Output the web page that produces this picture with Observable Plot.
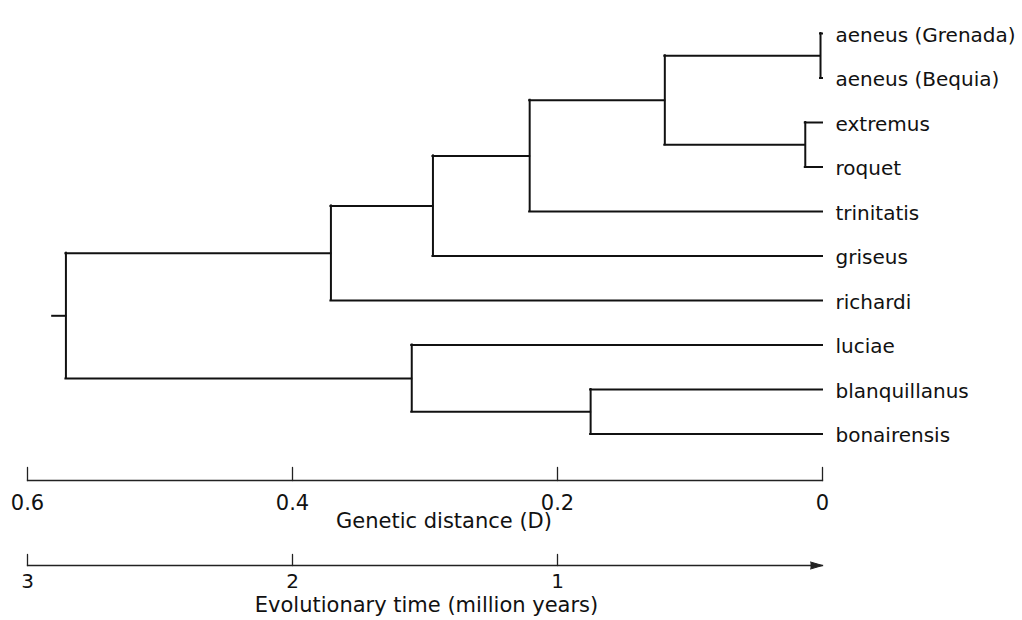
<!DOCTYPE html>
<html><head><meta charset="utf-8">
<script src="https://cdn.jsdelivr.net/npm/d3@7"></script>
<script src="https://cdn.jsdelivr.net/npm/@observablehq/plot@0.6"></script>
<style>html,body{margin:0;padding:0;background:#fff} #chart svg{display:block}</style>
</head><body><div id="chart"></div>
<script>
// Leaves (top to bottom)
const leaves = ["aeneus (Grenada)", "aeneus (Bequia)", "extremus", "roquet", "trinitatis",
  "griseus", "richardi", "luciae", "blanquillanus", "bonairensis"];
// Internal nodes: joined children and genetic distance (D) of the join
const nodeIds      = ["n1", "n2", "n3", "n4", "n5", "n6", "n7", "n8", "n9"];
const nodeLeft     = ["aeneus (Grenada)", "extremus", "n1", "n3", "n4", "n5", "blanquillanus", "luciae", "n6"];
const nodeRight    = ["aeneus (Bequia)", "roquet", "n2", "trinitatis", "griseus", "richardi", "bonairensis", "n7", "n8"];
const nodeDistance = [0.0015, 0.013, 0.119, 0.221, 0.294, 0.371, 0.175, 0.310, 0.571];
const rootStem = 0.581;
// Axes
const distTicks = [0.6, 0.4, 0.2, 0];
const timeTicks = [3, 2, 1];
const distPerMillionYears = 0.2;
const xLabel = "Genetic distance (D)";
const timeLabel = "Evolutionary time (million years)";

// Build tree geometry (data units)
const pos = new Map();
leaves.forEach((name, i) => pos.set(name, {d: 0, y: i}));
nodeIds.forEach((id, k) => {
  const a = pos.get(nodeLeft[k]), b = pos.get(nodeRight[k]);
  pos.set(id, {d: nodeDistance[k], y: (a.y + b.y) / 2});
});
const verticals = nodeIds.map((id, k) => ({x: nodeDistance[k], y1: pos.get(nodeLeft[k]).y, y2: pos.get(nodeRight[k]).y}));
const horizontals = nodeIds.flatMap((id, k) => [nodeLeft[k], nodeRight[k]].map(c => ({y: pos.get(c).y, x1: nodeDistance[k], x2: pos.get(c).d})));
const root = pos.get(nodeIds[nodeIds.length - 1]);
horizontals.push({y: root.y, x1: rootStem, x2: root.d});

const ink = "#111";
const axisInk = "#222";
const chart = Plot.plot({
  width: 1022, height: 620,
  marginLeft: 27, marginRight: 200, marginTop: 33, marginBottom: 140,
  style: {fontFamily: "'DejaVu Sans', sans-serif", background: "white", color: "black"},
  x: {domain: [0.6, 0], axis: null},
  y: {domain: [0, leaves.length - 1], range: [33, 433.5], axis: null},
  marks: [
    Plot.ruleY(horizontals, {y: "y", x1: "x1", x2: "x2", stroke: ink, strokeWidth: 2, strokeLinecap: "square"}),
    Plot.ruleX(verticals, {x: "x", y1: "y1", y2: "y2", stroke: ink, strokeWidth: 2, strokeLinecap: "square"}),
    Plot.text(leaves, {x: () => 0, y: (d, i) => i, text: d => d, textAnchor: "start", dx: 13, dy: 2, fontSize: 20, fill: ink}),
    // Genetic distance axis
    Plot.frame({anchor: "bottom", stroke: axisInk, strokeWidth: 1.3}),
    Plot.vector(distTicks, {x: d => d, frameAnchor: "bottom", length: 13, anchor: "start", r: 0, stroke: axisInk, strokeWidth: 1.3}),
    Plot.text(distTicks, {x: d => d, frameAnchor: "bottom", text: d => d === 0 ? "0" : d.toFixed(1), lineAnchor: "top", dy: 15, fontSize: 21, fill: ink}),
    Plot.text([xLabel], {frameAnchor: "bottom", text: d => d, dx: 19, dy: 33, lineAnchor: "top", fontSize: 21, fill: ink}),
    // Evolutionary time axis
    Plot.frame({anchor: "bottom", dy: 85, stroke: axisInk, strokeWidth: 1.3}),
    Plot.vector(timeTicks, {x: t => t * distPerMillionYears, frameAnchor: "bottom", dy: 85, length: 11, anchor: "start", r: 0, stroke: axisInk, strokeWidth: 1.3}),
    Plot.vector([0], {x: d => d, frameAnchor: "bottom", dy: 85, rotate: 90, anchor: "end", length: 12, shape: "spike", r: 3.5, fill: axisInk, stroke: axisInk, strokeWidth: 1}),
    Plot.text(timeTicks, {x: t => t * distPerMillionYears, frameAnchor: "bottom", text: t => String(t), lineAnchor: "top", dy: 93, fontSize: 20, fill: ink}),
    Plot.text([timeLabel], {frameAnchor: "bottom", text: d => d, dx: 1.5, dy: 117, lineAnchor: "top", fontSize: 21, fill: ink})
  ]
});
document.getElementById("chart").appendChild(chart);
</script>
</body></html>
